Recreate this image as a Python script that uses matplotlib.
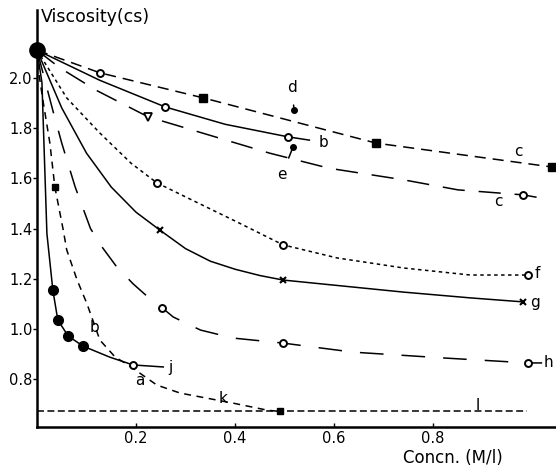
import matplotlib
matplotlib.use('Agg')
import matplotlib.pyplot as plt

plt.rcParams['lines.scale_dashes'] = False
plt.rcParams['font.family'] = 'DejaVu Sans'

# starting point shared by all curves (pure liquid)
x0, y0 = 0.0, 2.11

# curve c (upper, squares)
c_up_x = [0, 0.127, 0.336, 0.685, 1.04]
c_up_y = [2.11, 2.02, 1.92, 1.74, 1.645]
# curve b (solid)
b_x = [0, 0.127, 0.259, 0.38, 0.507, 0.55]
b_y = [2.11, 1.99, 1.884, 1.815, 1.765, 1.752]
# curve c (lower, long dashes)
c_lo_x = [0, 0.046, 0.12, 0.224, 0.47, 0.59, 0.74, 0.85, 0.982, 1.022]
c_lo_y = [2.11, 2.04, 1.95, 1.845, 1.70, 1.64, 1.594, 1.554, 1.534, 1.52]
# curve f (short dashes)
f_x = [0, 0.06, 0.127, 0.19, 0.242, 0.30, 0.40, 0.497, 0.606, 0.74, 0.875, 0.992]
f_y = [2.11, 1.92, 1.78, 1.66, 1.582, 1.526, 1.43, 1.335, 1.283, 1.243, 1.215, 1.215]
# curve g (solid, crosses)
g_x = [0, 0.05, 0.1, 0.15, 0.2, 0.248, 0.3, 0.35, 0.4, 0.45, 0.497, 0.74, 0.875, 0.982]
g_y = [2.11, 1.88, 1.70, 1.565, 1.465, 1.394, 1.32, 1.27, 1.238, 1.213, 1.195, 1.147, 1.124, 1.108]
# curve h (long dashes)
h_x = [0, 0.032, 0.05, 0.077, 0.108, 0.13, 0.16, 0.194, 0.234, 0.253, 0.275, 0.33, 0.396, 0.497, 0.638, 0.828, 0.992, 1.02]
h_y = [2.11, 1.87, 1.74, 1.566, 1.40, 1.33, 1.25, 1.18, 1.11, 1.084, 1.048, 0.996, 0.964, 0.944, 0.908, 0.884, 0.865, 0.865]
# curve a / k (dashes, ends on l)
a_x = [0, 0.002, 0.012, 0.026, 0.036, 0.053, 0.06, 0.081, 0.101, 0.127, 0.158, 0.184, 0.242, 0.289, 0.396, 0.465, 0.49]
a_y = [2.11, 2.04, 1.91, 1.74, 1.566, 1.394, 1.315, 1.195, 1.10, 0.956, 0.888, 0.857, 0.777, 0.745, 0.705, 0.677, 0.672]
# curve j (solid, filled dots)
j_x = [0, 0.01, 0.02, 0.032, 0.042, 0.063, 0.093, 0.147, 0.194, 0.255]
j_y = [2.11, 1.98, 1.38, 1.155, 1.036, 0.972, 0.932, 0.888, 0.857, 0.849]
# line l
l_x = [0, 0.99]
l_y = [0.672, 0.672]

# single points d and e
d_pt = (0.519, 1.873)
e_pt = (0.517, 1.725)

# curve labels: text, x, y
labels = [('c', 0.972, 1.705), ('c', 0.931, 1.506), ('b', 0.578, 1.741),
          ('f', 1.01, 1.223), ('g', 1.006, 1.104), ('h', 1.032, 0.865),
          ('j', 0.269, 0.845), ('a', 0.208, 0.797), ('b', 0.117, 1.008),
          ('k', 0.376, 0.725), ('l', 0.889, 0.697)]

y_ticks = [0.8, 1.0, 1.2, 1.4, 1.6, 1.8, 2.0]
x_ticks = [0.2, 0.4, 0.6, 0.8]

fig = plt.figure(figsize=(5.56, 4.67), dpi=100)
ax = fig.add_axes([37 / 556, 40 / 467, 519 / 556, 417 / 467])
ax.set_xlim(0, 1.048)
ax.set_ylim(0.61, 2.27)

lw = 1.1
k = 'black'
ax.plot(c_up_x, c_up_y, color=k, lw=lw, dashes=(8, 5))
ax.plot(b_x, b_y, color=k, lw=lw)
ax.plot(c_lo_x, c_lo_y, color=k, lw=lw, dashes=(16, 10))
ax.plot(f_x, f_y, color=k, lw=lw, dashes=(2.5, 2.5))
ax.plot(g_x, g_y, color=k, lw=lw)
ax.plot(h_x, h_y, color=k, lw=lw, dashes=(17, 13))
ax.plot(a_x, a_y, color=k, lw=lw, dashes=(5, 4))
ax.plot(j_x, j_y, color=k, lw=lw)
ax.plot(l_x, l_y, color=k, lw=lw, dashes=(5, 2.5), clip_on=False)

# markers
op = dict(marker='o', ms=5, mfc='white', mec=k, mew=1.4, ls='none', zorder=5)
ax.plot([c_up_x[1]], [c_up_y[1]], **op)
ax.plot(c_up_x[2:], c_up_y[2:], marker='s', ms=6, color=k, ls='none', clip_on=False)
ax.plot([b_x[2], b_x[4]], [b_y[2], b_y[4]], **op)
ax.plot([c_lo_x[3]], [c_lo_y[3]], marker='v', ms=6, mfc='white', mec=k, mew=1.3, ls='none')
ax.plot([c_lo_x[8]], [c_lo_y[8]], **op)
ax.plot([f_x[4], f_x[7], f_x[11]], [f_y[4], f_y[7], f_y[11]], **op)
ax.plot([g_x[5], g_x[10], g_x[13]], [g_y[5], g_y[10], g_y[13]], marker='x', ms=5, mew=1.5, color=k, ls='none')
ax.plot([h_x[9], h_x[13], h_x[16]], [h_y[9], h_y[13], h_y[16]], **op)
ax.plot([a_x[4]], [a_y[4]], marker='s', ms=5, color=k, ls='none')
ax.plot([a_x[-1]], [a_y[-1]], marker='s', ms=5, color=k, ls='none')
ax.plot(j_x[3:7], j_y[3:7], marker='o', ms=7, color=k, ls='none')
ax.plot([j_x[8]], [j_y[8]], **op)
ax.plot([x0], [y0], marker='o', ms=11, color=k, ls='none', clip_on=False, zorder=6)

# points d and e with arrows
ax.plot(*d_pt, marker='o', ms=4, color=k)
ax.plot(*e_pt, marker='o', ms=4, color=k)
ax.annotate('d', xy=d_pt, xytext=(0.515, 1.96), ha='center', va='center', fontsize=11,
            arrowprops=dict(arrowstyle='-', lw=1.1, color=k, shrinkA=5, shrinkB=2))
ax.annotate('e', xy=e_pt, xytext=(0.495, 1.614), ha='center', va='center', fontsize=11,
            arrowprops=dict(arrowstyle='-', lw=1.1, color=k, shrinkA=5, shrinkB=2))

for t, x, y in labels:
    ax.text(x, y, t, ha='center', va='center', fontsize=11, clip_on=False)

for side in ['top', 'right']:
    ax.spines[side].set_visible(False)
ax.spines['left'].set_linewidth(1.8)
ax.spines['bottom'].set_linewidth(1.8)

ax.set_yticks(y_ticks)
ax.set_yticklabels([f'{v:.1f}' for v in y_ticks])
ax.set_xticks(x_ticks)
ax.set_xticklabels([f'{v:.1f}' for v in x_ticks])
ax.tick_params(axis='y', direction='out', length=3, width=1, pad=0, labelsize=10.5)
ax.tick_params(axis='x', direction='in', length=3, width=1, pad=3, labelsize=10.5)

fig.text(41 / 556, 1 - 17 / 467, 'Viscosity(cs)', ha='left', va='center', fontsize=12.5)
fig.text(453 / 556, 1 - 458 / 467, 'Concn. (M/l)', ha='center', va='center', fontsize=12)

fig.savefig('out.png', dpi=100)
